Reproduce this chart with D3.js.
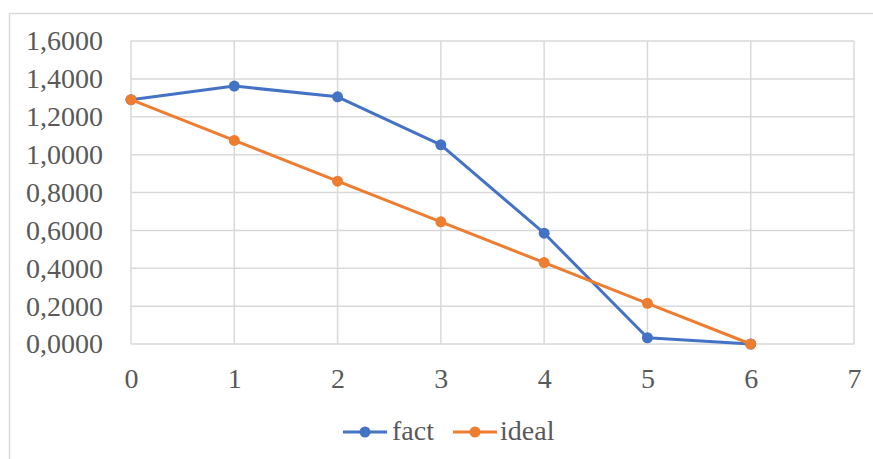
<!DOCTYPE html>
<html>
<head>
<meta charset="utf-8">
<script src="https://cdn.jsdelivr.net/npm/d3@7"></script>
<style>
  html, body { margin: 0; padding: 0; background: #fff; }
  svg { display: block; }
</style>
</head>
<body>
<svg id="chart" width="873" height="459"></svg>
<script>
// Series data
const xValues = [0, 1, 2, 3, 4, 5, 6];
const factValues = [1.29, 1.362, 1.305, 1.052, 0.585, 0.033, 0];
const idealValues = [1.29, 1.075, 0.86, 0.645, 0.43, 0.215, 0];
const seriesNames = ["fact", "ideal"];
const seriesColors = ["#4472C4", "#ED7D31"];
const xTicks = [0, 1, 2, 3, 4, 5, 6, 7];
const yTicks = [0, 0.2, 0.4, 0.6, 0.8, 1.0, 1.2, 1.4, 1.6];

const FONT = "Liberation Serif";
const TEXT_COLOR = "#595959";
const FONT_SIZE = 28;

const svg = d3.select("#chart");
const W = 873, H = 459;

// Outer chart frame
svg.append("rect")
  .attr("x", 9.5).attr("y", 13.5)
  .attr("width", W + 20).attr("height", H + 20)
  .attr("fill", "#fff").attr("stroke", "#d9d9d9").attr("stroke-width", 1.5);

const plot = { left: 131, top: 41, right: 854, bottom: 344 };

const x = d3.scaleLinear().domain([0, 7]).range([plot.left, plot.right]);
const y = d3.scaleLinear().domain([0, 1.6]).range([plot.bottom, plot.top]);

// Gridlines
const grid = svg.append("g").attr("stroke", "#d9d9d9").attr("stroke-width", 1.5);
grid.selectAll(".h").data(yTicks).join("line")
  .attr("x1", plot.left).attr("x2", plot.right)
  .attr("y1", d => y(d)).attr("y2", d => y(d));
grid.selectAll(".v").data(xTicks).join("line")
  .attr("y1", plot.top).attr("y2", plot.bottom)
  .attr("x1", d => x(d)).attr("x2", d => x(d));

// Y axis labels
const fmt = d => d3.format(".4f")(d).replace(".", ",");
const yAxis = d3.axisLeft(y).tickValues(yTicks).tickFormat(fmt).tickSize(0).tickPadding(28);
const gy = svg.append("g").attr("transform", `translate(${plot.left},0)`).call(yAxis)
  .attr("font-family", FONT).attr("font-size", FONT_SIZE);
gy.select(".domain").remove();
gy.selectAll("text").attr("fill", TEXT_COLOR);

// X axis labels
const xAxis = d3.axisBottom(x).tickValues(xTicks).tickFormat(d3.format("d")).tickSize(0).tickPadding(24);
const gx = svg.append("g").attr("transform", `translate(0,${plot.bottom})`).call(xAxis)
  .attr("font-family", FONT).attr("font-size", FONT_SIZE);
gx.select(".domain").remove();
gx.selectAll("text").attr("fill", TEXT_COLOR);

// Lines and markers
const series = [factValues, idealValues];
const line = d3.line().x((d, i) => x(xValues[i])).y(d => y(d));
series.forEach((vals, si) => {
  const g = svg.append("g");
  g.append("path").datum(vals)
    .attr("d", line).attr("fill", "none")
    .attr("stroke", seriesColors[si]).attr("stroke-width", 3)
    .attr("stroke-linejoin", "round");
  g.selectAll("circle").data(vals).join("circle")
    .attr("cx", (d, i) => x(xValues[i])).attr("cy", d => y(d))
    .attr("r", 5.5).attr("fill", seriesColors[si]);
});

// Legend
const legendItems = [{ x0: 343, tx: 392 }, { x0: 453, tx: 500 }];
const ly = 432;
seriesNames.forEach((name, i) => {
  const it = legendItems[i];
  const g = svg.append("g");
  g.append("line").attr("x1", it.x0).attr("x2", it.x0 + 44)
    .attr("y1", ly).attr("y2", ly)
    .attr("stroke", seriesColors[i]).attr("stroke-width", 3);
  g.append("circle").attr("cx", it.x0 + 22).attr("cy", ly).attr("r", 5.5)
    .attr("fill", seriesColors[i]);
  g.append("text").attr("x", it.tx).attr("y", ly).attr("dy", "0.28em")
    .attr("font-family", FONT).attr("font-size", FONT_SIZE)
    .attr("fill", TEXT_COLOR).text(name);
});
</script>
</body>
</html>
